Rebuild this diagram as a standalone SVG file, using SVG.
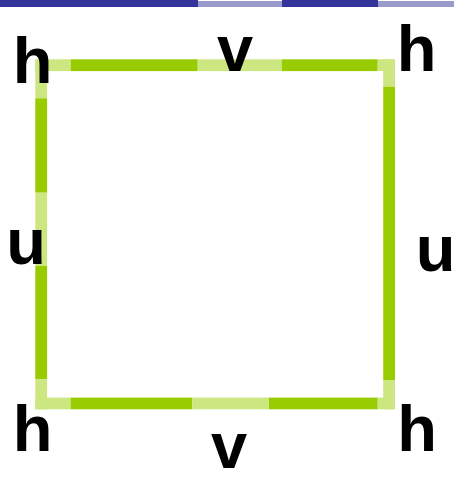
<svg xmlns="http://www.w3.org/2000/svg" width="454" height="484" viewBox="0 0 454 484">
<style>
.d{fill:#99cc00}.l{fill:#cce680}.bd{fill:#333399}.bl{fill:#9999cc}
text{font-family:"Liberation Sans",Arial,sans-serif;font-weight:bold;font-size:65px;fill:#000;text-anchor:middle}
</style>
<rect width="454" height="484" fill="#fff"/>
<g id="topbar">
<rect class="bd" x="0" y="0" width="198" height="7"/>
<rect class="bl" x="198" y="1" width="84" height="6"/>
<rect class="bd" x="282" y="0" width="96" height="7"/>
<rect class="bl" x="378" y="1" width="76" height="6"/>
</g>
<g id="edges">
<g id="top">
<rect class="l" x="35.3" y="59.3" width="35.4" height="11.8"/>
<rect class="d" x="70.7" y="59.3" width="127" height="11.8"/>
<rect class="l" x="197.7" y="59.3" width="84" height="11.8"/>
<rect class="d" x="281.7" y="59.3" width="96" height="11.8"/>
<rect class="l" x="377.7" y="59.3" width="17.3" height="11.8"/>
</g>
<g id="left">
<rect class="l" x="35.3" y="59.3" width="11.8" height="39"/>
<rect class="d" x="35.3" y="98.3" width="11.8" height="94.4"/>
<rect class="l" x="35.3" y="192.7" width="11.8" height="73.3"/>
<rect class="d" x="35.3" y="266" width="11.8" height="113.3"/>
<rect class="l" x="35.3" y="379.3" width="11.8" height="30"/>
</g>
<g id="right">
<rect class="l" x="383.2" y="59.3" width="11.8" height="27.4"/>
<rect class="d" x="383.2" y="86.7" width="11.8" height="293.3"/>
<rect class="l" x="383.2" y="380" width="11.8" height="29.3"/>
</g>
<g id="bottom">
<rect class="l" x="35.3" y="397.6" width="35.4" height="11.7"/>
<rect class="d" x="70.7" y="397.6" width="121.6" height="11.7"/>
<rect class="l" x="192.3" y="397.6" width="76.7" height="11.7"/>
<rect class="d" x="269" y="397.6" width="108.7" height="11.7"/>
<rect class="l" x="377.7" y="397.6" width="17.3" height="11.7"/>
</g>
</g>
<g id="labels">
<text x="32.5" y="82.5">h</text>
<text x="416.5" y="71">h</text>
<text x="32.5" y="450.5">h</text>
<text x="417" y="451">h</text>
<text x="235" y="71">v</text>
<text x="229" y="468">v</text>
<text x="26" y="263.5">u</text>
<text x="435.5" y="270.5">u</text>
</g>
</svg>
